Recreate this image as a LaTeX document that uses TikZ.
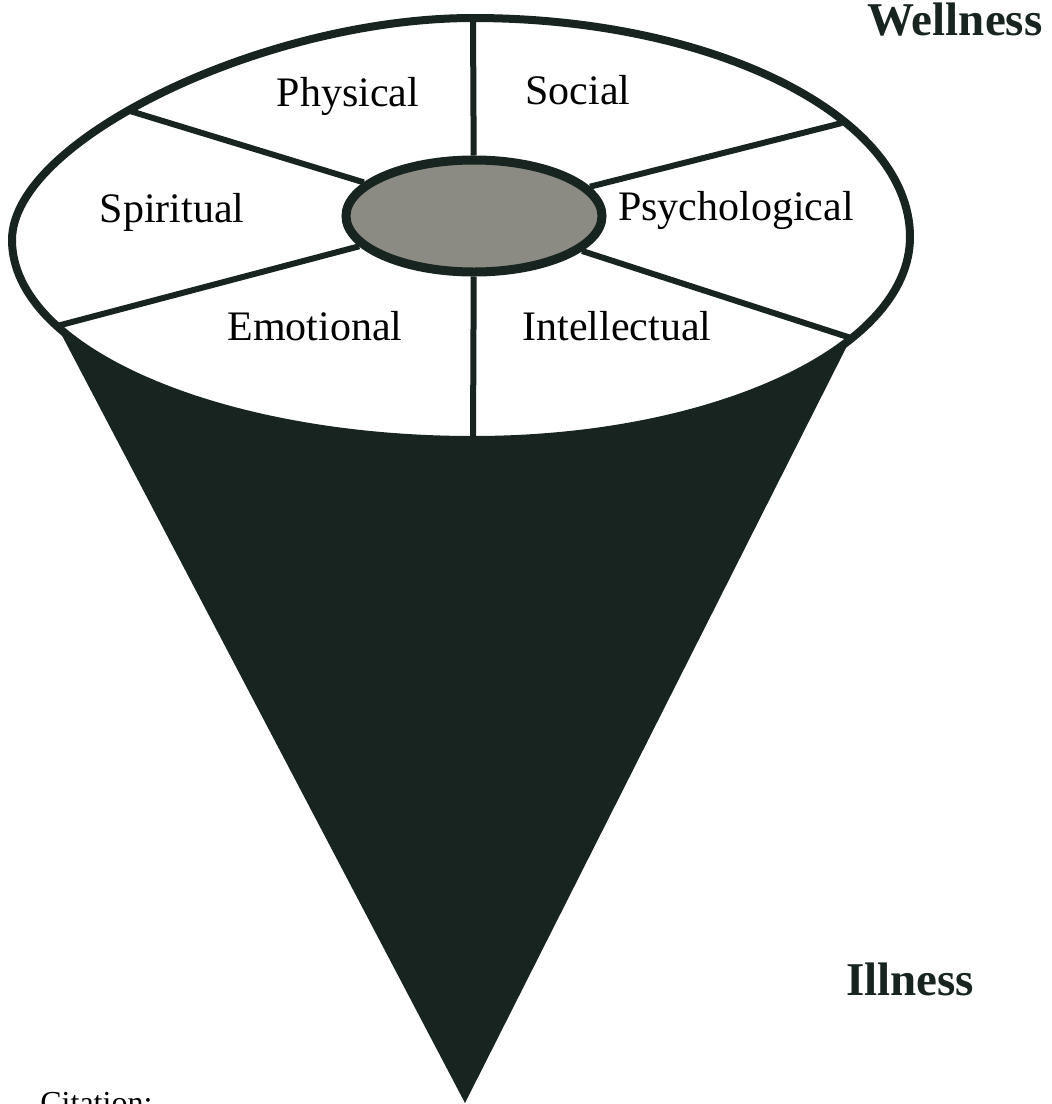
\documentclass[tikz,border=0pt]{standalone}
\usepackage{fontspec}
\setmainfont{Liberation Serif}
\usetikzlibrary{shapes.geometric}
\definecolor{inkgreen}{HTML}{17241F}
\definecolor{hubgray}{HTML}{8C8B83}
\tikzset{
  rim/.style={draw=inkgreen, line width=4pt, fill=white},
  spoke/.style={draw=inkgreen, line width=3pt},
  part/.style={font=\fontsize{21}{25}\selectfont, anchor=base},
  pole/.style={font=\fontsize{23.5}{28}\selectfont\bfseries, anchor=base, text=inkgreen},
}
\begin{document}
\begin{tikzpicture}[x=0.5pt, y=-0.5pt]
        \useasboundingbox (0,0) rectangle (1051,1104);
        % cone
        \coordinate (coneL) at (57,326);
        \coordinate (coneR) at (851,338);
        \coordinate (apex) at (465,1103);
        \fill[inkgreen] (coneL) -- (apex) -- (coneR) -- cycle;
        % top face with its spokes
        \draw[rim] (12,240) .. controls (12,140) and (265,18) .. (473,18)
            .. controls (714,18) and (910,116) .. (910,237)
            .. controls (910,349) and (714,440) .. (473,440)
            .. controls (218,440) and (12,350) .. cycle;
        \foreach \n/\x/\y in {top/473/18, bot/473/440, ul/130/111, ur/842/123, ll/57/326, lr/851/338}
            \coordinate (rim-\n) at (\x,\y);
        \node[ellipse, draw=inkgreen, line width=4.5pt, fill=hubgray, inner sep=0pt,
            minimum width=128pt, minimum height=56pt] (hub) at (474,216) {};
        \foreach \n in {top,bot,ul,ur,ll,lr}
            \draw[spoke] (rim-\n) -- (hub);
        % labels
        \foreach \x/\y/\lab in {348/106/Physical, 578/104/Social, 172/222/Spiritual,
            736/220/Psychological, 315/340/Emotional, 617/340/Intellectual}
            \node[part] (lab-\lab) at (\x,\y) {\lab};
        \node[pole] (wellness) at (955,35) {Wellness};
        \node[pole] (illness) at (910,995) {Illness};
        \node[font=\fontsize{16}{19}\selectfont, anchor=base west, inner sep=0pt] (citation) at (40,1113) {Citation:};
    \end{tikzpicture}
\end{document}
